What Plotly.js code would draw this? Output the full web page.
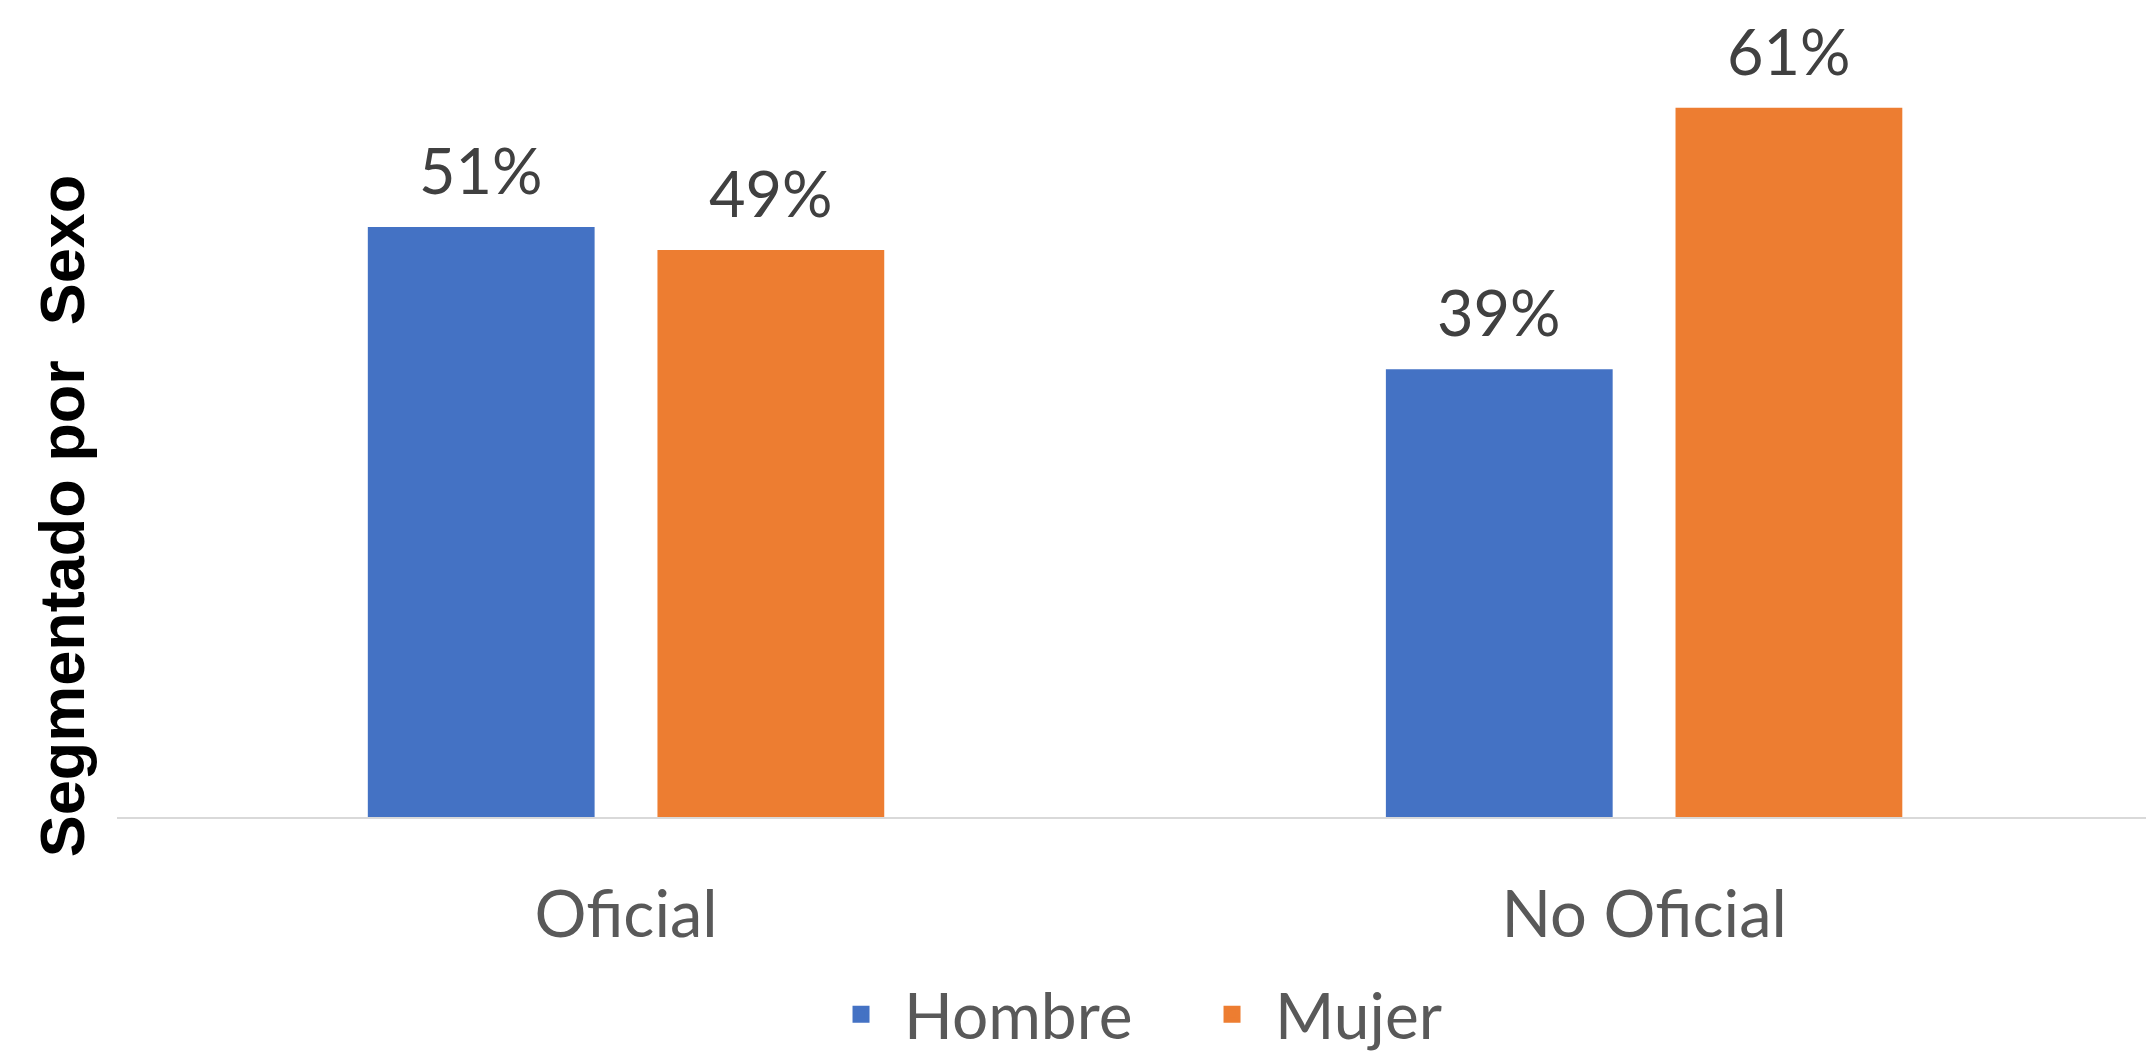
<!DOCTYPE html>
<html>
<head>
<meta charset="utf-8">
<script src="https://cdn.plot.ly/plotly-3.0.1.min.js"></script>
<style>
  html, body { margin: 0; padding: 0; background: #ffffff; }
  #chart { width: 2146px; height: 1056px; }
</style>
</head>
<body>
<div id="chart"></div>
<script>
// ---- data ----
const categories = ['Oficial', 'No Oficial'];
const seriesNames = ['Hombre', 'Mujer'];
const hombre = [51, 38.7];
const mujer = [49, 61.3];
const yAxisTitle = 'Segmentado por  Sexo';

// ---- styles ----
const colors = ['#4472C4', '#ED7D31'];
const textFont = 'Lato, Carlito, "Open Sans", sans-serif';

const seriesValues = [hombre, mujer];

const traces = [];
seriesValues.forEach((vals, i) => {
  traces.push({
    type: 'bar',
    x: categories,
    y: vals,
    name: seriesNames[i],
    marker: { color: colors[i] },
    showlegend: false,
    hovertemplate: '%{x}: %{y:.0f}%<extra>' + seriesNames[i] + '</extra>'
  });
});
// legend entries (slightly larger squares), on an empty helper axis that also carries the title
seriesValues.forEach((vals, i) => {
  traces.push({
    type: 'bar',
    x: [null],
    y: [null],
    xaxis: 'x',
    yaxis: 'y2',
    name: seriesNames[i],
    marker: { color: colors[i], line: { color: colors[i], width: 5 } },
    showlegend: true,
    hoverinfo: 'skip'
  });
});

// value labels above bars
const annotations = [];
const shifts = [-145, 145];
seriesValues.forEach((vals, i) => {
  vals.forEach((v, j) => {
    annotations.push({
      x: categories[j],
      y: v,
      xref: 'x',
      yref: 'y',
      text: Math.round(v) + '%',
      showarrow: false,
      xshift: shifts[i],
      yanchor: 'bottom',
      yshift: 18,
      font: { family: textFont, size: 63, color: '#404040' }
    });
  });
});

const layout = {
  width: 2146,
  height: 1056,
  margin: { l: 117, r: 0, t: 40, b: 239 },
  paper_bgcolor: '#ffffff',
  plot_bgcolor: 'rgba(0,0,0,0)',
  barmode: 'group',
  bargap: 0.431,
  bargroupgap: 0.217,
  xaxis: {
    type: 'category',
    range: [-0.5, 1.493],
    showline: true,
    linecolor: '#D9D9D9',
    linewidth: 2,
    ticks: '',
    showgrid: false,
    zeroline: false,
    ticklabelstandoff: 40,
    tickfont: { family: textFont, size: 65, color: '#595959' }
  },
  yaxis: {
    range: [0, 67.16],
    showgrid: false,
    zeroline: false,
    showline: false,
    showticklabels: false,
    ticks: ''
  },
  yaxis2: {
    anchor: 'free',
    position: 0,
    domain: [0, 0.7748],
    showgrid: false,
    zeroline: false,
    showline: false,
    showticklabels: false,
    ticks: '',
    title: {
      text: yAxisTitle,
      standoff: 10,
      font: { family: '"Liberation Sans Narrow", "Liberation Sans", sans-serif', size: 63, color: '#000000', weight: 'bold' }
    }
  },
  legend: {
    orientation: 'h',
    x: 0.3455,
    xanchor: 'left',
    y: 0.085,
    yref: 'container',
    yanchor: 'top',
    itemwidth: 76,
    entrywidth: 280,
    entrywidthmode: 'pixels',
    font: { family: textFont, size: 64, color: '#595959' },
    bgcolor: 'rgba(0,0,0,0)'
  },
  annotations: annotations,
  showlegend: true
};

Plotly.newPlot('chart', traces, layout, { displayModeBar: false, staticPlot: true });
</script>
</body>
</html>
